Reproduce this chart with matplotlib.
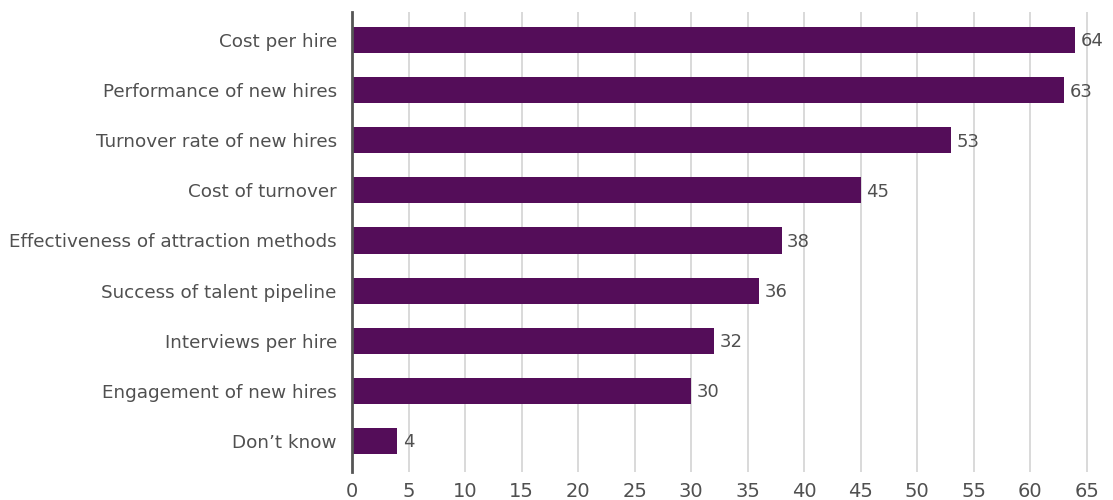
import matplotlib
matplotlib.use("Agg")
import matplotlib.pyplot as plt

categories = [
    "Cost per hire",
    "Performance of new hires",
    "Turnover rate of new hires",
    "Cost of turnover",
    "Effectiveness of attraction methods",
    "Success of talent pipeline",
    "Interviews per hire",
    "Engagement of new hires",
    "Don\u2019t know",
]
values = [64, 63, 53, 45, 38, 36, 32, 30, 4]
x_ticks = list(range(0, 70, 5))

BAR_COLOR = "#540d59"
TEXT_COLOR = "#505050"

plt.rcParams["font.family"] = ["DejaVu Sans"]

fig = plt.figure(figsize=(11.13, 5.0), dpi=100)
ax = fig.add_axes([0.3163, 0.056, 0.9865 - 0.3163, 0.976 - 0.056])

y = list(range(len(categories)))
bars = ax.barh(y, values, height=0.52, color=BAR_COLOR, zorder=3)

for rect, v in zip(bars, values):
    ax.annotate(str(v), (rect.get_width(), rect.get_y() + rect.get_height() / 2),
                xytext=(4, -1), textcoords="offset points",
                va="center", ha="left", fontsize=13, color=TEXT_COLOR)

ax.set_yticks(y)
ax.set_yticklabels(categories, fontsize=13.2, color=TEXT_COLOR)
ax.set_ylim(8.62, -0.56)
ax.set_xlim(0, 66)
ax.set_xticks(x_ticks)
ax.set_xticklabels([str(t) for t in x_ticks], fontsize=14, color=TEXT_COLOR)

ax.grid(axis="x", color="#d3d3d3", linewidth=1.2, zorder=0)
ax.tick_params(axis="both", length=0)
ax.tick_params(axis="y", pad=11)
ax.tick_params(axis="x", pad=7)
for side in ["top", "right", "bottom"]:
    ax.spines[side].set_visible(False)
ax.spines["left"].set_color("#555555")
ax.spines["left"].set_linewidth(2)
ax.spines["left"].set_zorder(4)

fig.savefig("out.png", dpi=100)
